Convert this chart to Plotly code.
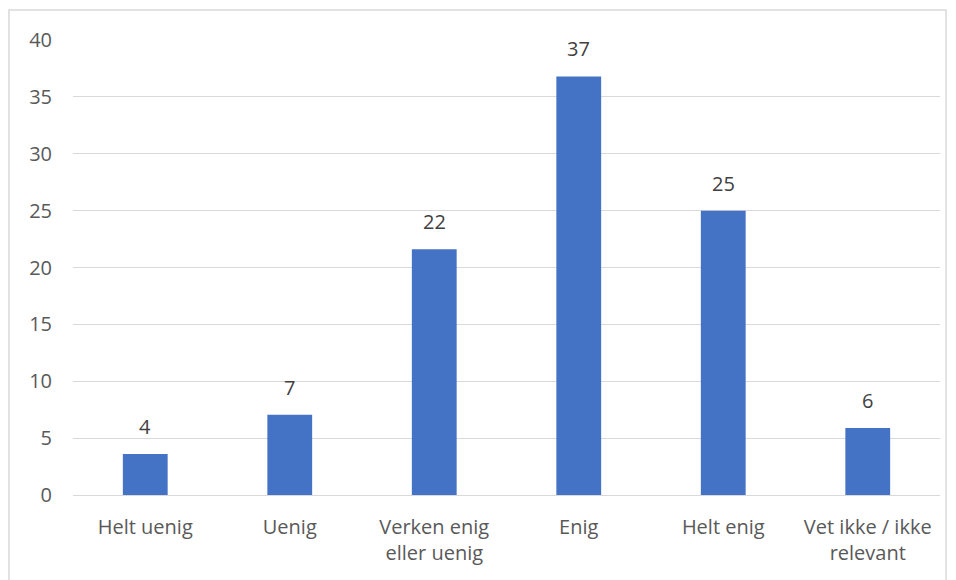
import plotly.graph_objects as go

categories = ["Helt uenig", "Uenig", "Verken enig<br>eller uenig", "Enig", "Helt enig", "Vet ikke / ikke<br>relevant"]
values = [3.6, 7.05, 21.6, 36.8, 25.0, 5.9]
labels = ["4", "7", "22", "37", "25", "6"]
y_ticks = [0, 5, 10, 15, 20, 25, 30, 35, 40]

FONT = "Open Sans"
TXT = "#595959"

fig = go.Figure(go.Bar(
    x=categories, y=values,
    marker=dict(color="#4472C4", line=dict(width=0)),
    width=0.31, cliponaxis=False,
))

for c, v, t in zip(categories, values, labels):
    fig.add_annotation(x=c, y=v, text=t, showarrow=False, yanchor="bottom",
                       yshift=12, font=dict(family=FONT, size=20, color="#404040"))

# plot area target (page px): x 73..940, y 40..495; page has 8px body margin
fig.update_layout(
    width=956, height=580,
    margin=dict(l=65, r=24, t=32, b=93),
    paper_bgcolor="white", plot_bgcolor="white",
    showlegend=False,
    font=dict(family=FONT, size=20, color=TXT),
    xaxis=dict(showgrid=False, showline=False, ticks="", ticklabelstandoff=18,
               tickfont=dict(family=FONT, size=20, color=TXT)),
    yaxis=dict(range=[0, 40], tickvals=y_ticks, showgrid=True, gridcolor="#d9d9d9",
               gridwidth=1, zeroline=True, zerolinecolor="#d9d9d9", zerolinewidth=1,
               showline=False, ticks="", ticklabelstandoff=20,
               tickfont=dict(family=FONT, size=20, color=TXT)),
    shapes=[dict(type="rect", xref="paper", yref="paper",
                 x0=(9 - 73) / 867, x1=(946 - 73) / 867,
                 y0=(495 - 600) / 455, y1=(495 - 10) / 455,
                 line=dict(color="#d9d9d9", width=1.5), layer="below")],
)

fig.write_html("out.html")
